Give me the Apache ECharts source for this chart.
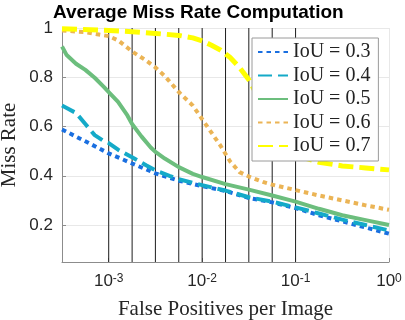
<!doctype html>
<html lang="en">
<head>
    <meta charset="UTF-8">
    <script src="https://cdn.jsdelivr.net/npm/echarts@6/dist/echarts.min.js"></script>
    <title>Average Miss Rate Computation</title>
    <style>
        html, body {margin: 0; padding: 0; background: #fff;}
    </style>
</head>
<body>
<div id="main" style="width: 405px;height:320px;"></div>
<script>
    // x positions are log10(false positives per image), y is the miss rate
    var exp03 = [-3.5, -3.25, -3.0, -2.75, -2.5, -2.25, -2.0, -1.75, -1.5, -1.25, -1.0, -0.75, -0.5, -0.25, 0];
    var miss03 = [0.588, 0.540, 0.491, 0.450, 0.410, 0.380, 0.358, 0.338, 0.310, 0.292, 0.269, 0.240, 0.215, 0.190, 0.165];

    var exp04 = [-3.5, -3.45, -3.35, -3.25, -3.15, -3.05, -3.0, -2.9, -2.75, -2.6, -2.5, -2.35, -2.25, -2.0, -1.75, -1.5, -1.25, -1.0, -0.75, -0.5, -0.25, 0];
    var miss04 = [0.685, 0.675, 0.655, 0.610, 0.565, 0.540, 0.533, 0.506, 0.475, 0.443, 0.422, 0.400, 0.386, 0.362, 0.340, 0.313, 0.295, 0.272, 0.247, 0.222, 0.200, 0.178];

    var exp05 = [-3.5, -3.45, -3.35, -3.25, -3.15, -3.05, -3.0, -2.9, -2.8, -2.75, -2.65, -2.55, -2.5, -2.4, -2.25, -2.1, -2.0, -1.75, -1.5, -1.25, -1.0, -0.75, -0.5, -0.25, 0];
    var miss05 = [0.925, 0.890, 0.855, 0.830, 0.798, 0.760, 0.740, 0.700, 0.645, 0.610, 0.560, 0.515, 0.497, 0.470, 0.435, 0.408, 0.395, 0.366, 0.344, 0.320, 0.295, 0.266, 0.240, 0.220, 0.200];

    var exp06 = [-3.5, -3.25, -3.0, -2.9, -2.75, -2.6, -2.5, -2.4, -2.25, -2.1, -2.0, -1.9, -1.8, -1.7, -1.6, -1.5, -1.35, -1.25, -1.0, -0.75, -0.5, -0.25, 0];
    var miss06 = [0.990, 0.983, 0.967, 0.950, 0.905, 0.868, 0.840, 0.805, 0.740, 0.685, 0.630, 0.575, 0.520, 0.458, 0.415, 0.397, 0.375, 0.364, 0.342, 0.320, 0.300, 0.280, 0.262];

    var exp07 = [-3.5, -3.0, -2.75, -2.5, -2.25, -2.1, -2.0, -1.9, -1.8, -1.7, -1.6, -1.5, -1.4, -1.3, -1.2, -1.1, -1.0, -0.9, -0.75, -0.5, -0.25, 0];
    var miss07 = [0.997, 0.990, 0.985, 0.978, 0.970, 0.960, 0.948, 0.930, 0.910, 0.880, 0.840, 0.790, 0.720, 0.640, 0.570, 0.520, 0.490, 0.472, 0.455, 0.440, 0.432, 0.424];

    // reference points (fppi) for the log-average, shown as black lines
    var refPoints = [0.001, 0.00178, 0.00316, 0.00562, 0.01, 0.0178, 0.0316, 0.0562, 0.1];

    var names = ['IoU = 0.3', 'IoU = 0.4', 'IoU = 0.5', 'IoU = 0.6', 'IoU = 0.7'];
    var colors = ['#1a6fe0', '#14aac8', '#6cbe7d', '#ebb455', '#ffff00'];

    var yMin = 0.05, yMax = 1;

    function pairs(exps, miss) {
        var out = [];
        for (var i = 0; i < exps.length; i++) {
            out.push([Math.pow(10, exps[i]), miss[i]]);
        }
        return out;
    }

    var myChart = echarts.init(document.getElementById('main'));

    var axisGray = '#8c8c8c';
    var serif = 'Liberation Serif';
    var sans = 'Liberation Sans';

    var series = [];
    // black reference lines first so the curves sit on top
    for (var k = 0; k < refPoints.length; k++) {
        series.push({
            name: 'ref' + k,
            type: 'line',
            symbol: 'none',
            silent: true,
            data: [[refPoints[k], yMin], [refPoints[k], yMax]],
            lineStyle: {color: '#1e1e1e', width: 1},
            z: 2
        });
    }
    var curves = [
        {data: pairs(exp03, miss03), width: 4, type: [4.5, 4]},
        {data: pairs(exp04, miss04), width: 4, type: [14, 6]},
        {data: pairs(exp05, miss05), width: 4, type: 'solid'},
        {data: pairs(exp06, miss06), width: 4, type: [4.5, 4]},
        {data: pairs(exp07, miss07), width: 5, type: [15, 6]}
    ];
    for (var i = 0; i < curves.length; i++) {
        series.push({
            name: names[i],
            type: 'line',
            symbol: 'none',
            data: curves[i].data,
            lineStyle: {color: colors[i], width: curves[i].width, type: curves[i].type},
            itemStyle: {color: colors[i]},
            z: 3
        });
    }

    var option = {
        animation: false,
        title: {
            text: 'Average Miss Rate Computation',
            left: 53,
            top: 3,
            padding: 0,
            textStyle: {fontFamily: sans, fontSize: 19, fontWeight: 'bold', color: '#000'}
        },
        legend: {
            orient: 'vertical',
            left: 252,
            top: 38,
            padding: [4, 8, 5, 5],
            itemWidth: 30,
            itemHeight: 14,
            itemGap: 3.5,
            backgroundColor: '#fff',
            borderColor: '#9a9a9a',
            borderWidth: 1,
            borderRadius: 0,
            itemStyle: {opacity: 0},
            textStyle: {fontFamily: serif, fontSize: 20, color: '#222'},
            data: names
        },
        grid: {
            left: 62,
            right: 16,
            top: 28,
            bottom: 58,
            containLabel: false,
            outerBoundsMode: 'none'
        },
        xAxis: {
            type: 'log',
            logBase: 10,
            min: Math.pow(10, -3.5),
            max: 1,
            name: 'False Positives per Image',
            nameLocation: 'middle',
            nameGap: 37,
            nameMoveOverlap: false,
            nameTextStyle: {fontFamily: serif, fontSize: 21, color: '#262626'},
            axisLine: {lineStyle: {color: axisGray}},
            axisTick: {inside: true, length: 4, lineStyle: {color: axisGray}},
            splitLine: {show: true, lineStyle: {color: '#e8e8e8'}},
            axisLabel: {
                margin: 11,
                showMinLabel: true,
                showMaxLabel: true,
                formatter: function (v) {
                    var l = Math.log10(v);
                    var e = Math.round(l);
                    if (Math.abs(l - e) > 1e-6) return '';
                    return '{b|10}{s|' + e + '}';
                },
                rich: {
                    b: {fontFamily: sans, fontSize: 17, color: '#262626'},
                    s: {fontFamily: sans, fontSize: 12, color: '#262626', verticalAlign: 'top'}
                }
            }
        },
        yAxis: {
            type: 'value',
            min: yMin,
            max: yMax,
            name: 'Miss Rate',
            nameLocation: 'middle',
            nameGap: 42,
            nameMoveOverlap: false,
            nameTextStyle: {fontFamily: serif, fontSize: 21, color: '#262626'},
            axisLine: {show: true, lineStyle: {color: axisGray}},
            axisTick: {show: true, inside: true, length: 4, lineStyle: {color: axisGray}},
            splitLine: {show: true, lineStyle: {color: '#e8e8e8'}},
            axisLabel: {
                margin: 9,
                fontFamily: sans,
                fontSize: 17,
                color: '#262626',
                formatter: function (v) {
                    if (v < 0.1) return '';
                    if (v > 0.99) return '1';
                    return v.toFixed(1);
                }
            }
        },
        series: series
    };

    myChart.setOption(option);
</script>
</body>
</html>
